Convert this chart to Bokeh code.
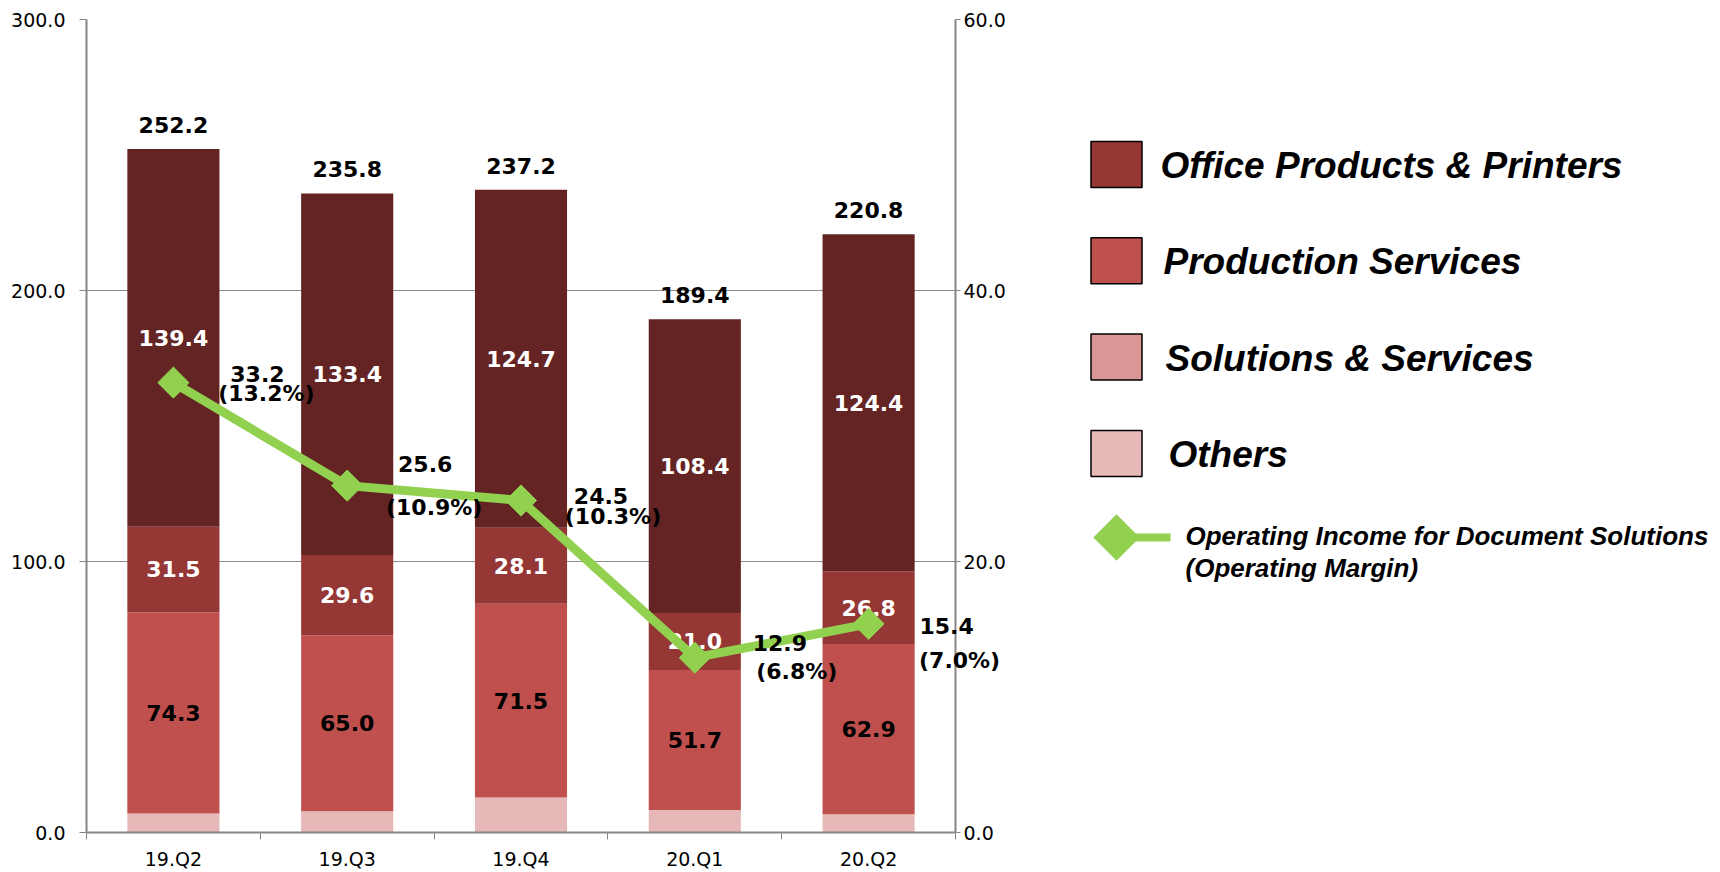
import math
from bokeh.plotting import figure
from bokeh.models import (Range1d, LinearAxis, FixedTicker, ColumnDataSource, Grid,
                          PrintfTickFormatter)
from bokeh.layouts import row
from bokeh.core.properties import value
from bokeh.embed import file_html
from bokeh.resources import INLINE

# ---------------- data ----------------
quarters = ["19.Q2", "19.Q3", "19.Q4", "20.Q1", "20.Q2"]
office = [139.4, 133.4, 124.7, 108.4, 124.4]
production = [31.5, 29.6, 28.1, 21.0, 26.8]
solutions = [74.3, 65.0, 71.5, 51.7, 62.9]
others = [7.0, 7.8, 12.9, 8.3, 6.7]
totals = [252.2, 235.8, 237.2, 189.4, 220.8]
op_income = [33.2, 25.6, 24.5, 12.9, 15.4]
op_margin = [13.2, 10.9, 10.3, 6.8, 7.0]

series_names = ["Office Products & Printers", "Production Services",
                "Solutions & Services", "Others"]
line_name = ["Operating Income for Document Solutions", "(Operating Margin)"]

left_ticks = [0, 100, 200, 300]
right_ticks = [0, 20, 40, 60]

# ---------------- styles ----------------
bar_colors = {"others": "#E6B9B8", "solutions": "#C0504D",
              "production": "#953735", "office": "#632423"}
legend_colors = ["#953735", "#C0504D", "#D99694", "#E6B9B8"]
green = "#92D050"
axis_gray = "#868686"
num_font = value("DejaVu Sans")

# label offsets for the operating income annotations (screen px, +dy = down)
l1_dx = [84, 78, 80, 85, 78]
l1_dy = [-9, -22, -5, -15, 2]
l2_dx = [93, 87, 92, 102, 91]
l2_dy = [11, 22, 16, 14, 37]

n = len(quarters)
xs = [i + 0.5 for i in range(n)]

src = ColumnDataSource(dict(
    x=xs, office=office, production=production, solutions=solutions, others=others,
    total=totals, oi=op_income,
    tot_txt=["%.1f" % v for v in totals],
    oi_txt=["%.1f" % v for v in op_income],
    om_txt=["(%.1f%%)" % v for v in op_margin],
    l1_dx=l1_dx, l1_dy=l1_dy, l2_dx=l2_dx, l2_dy=l2_dy,
))

FRAME_L, FRAME_R, FRAME_T, FRAME_B = 86, 955, 19, 832
MAIN_W = 1025
p = figure(width=MAIN_W, height=872, x_range=Range1d(0, n), y_range=Range1d(0, 300),
           x_axis_type=None, y_axis_type=None, output_backend="svg",
           toolbar_location=None, min_border_left=FRAME_L,
           min_border_right=MAIN_W - FRAME_R,
           min_border_top=FRAME_T, min_border_bottom=872 - FRAME_B)
p.outline_line_color = None
p.background_fill_color = "white"
p.extra_y_ranges = {"oi": Range1d(0, 60)}

grid = Grid(dimension=1, ticker=FixedTicker(ticks=left_ticks[1:]),
            grid_line_color="#8c8c8c", grid_line_width=1)
p.add_layout(grid)

# stacked bars
p.vbar_stack(["others", "solutions", "production", "office"], x="x", width=0.53,
             color=[bar_colors["others"], bar_colors["solutions"],
                    bar_colors["production"], bar_colors["office"]],
             line_color=None, source=src)

# segment labels
mid_sol = [o + s / 2 for o, s in zip(others, solutions)]
mid_prod = [o + s + pr / 2 for o, s, pr in zip(others, solutions, production)]
mid_off = [o + s + pr + of / 2 for o, s, pr, of in zip(others, solutions, production, office)]
seg_src = ColumnDataSource(dict(
    x=xs * 3,
    y=mid_sol + mid_prod + mid_off,
    t=["%.1f" % v for v in solutions + production + office],
    c=["black"] * n + ["white"] * n + ["white"] * n,
))
p.text(x="x", y="y", text="t", text_color="c", source=seg_src, text_font=num_font,
       text_font_style="bold", text_font_size="22px", text_align="center",
       text_baseline="middle")

# total labels
p.text(x="x", y="total", text="tot_txt", source=src, text_font=num_font,
       text_font_style="bold", text_font_size="22px", text_align="center",
       text_baseline="middle", y_offset=-24, text_color="black")

# operating income line
p.line(x="x", y="oi", source=src, y_range_name="oi", line_color=green, line_width=9)
p.scatter(x="x", y="oi", source=src, y_range_name="oi", marker="square",
          angle=math.pi / 4, size=22, fill_color=green, line_color=green)

# operating income / margin labels (overlay level so they are not clipped)
for txt, dx, dy in (("oi_txt", "l1_dx", "l1_dy"), ("om_txt", "l2_dx", "l2_dy")):
    p.text(x="x", y="oi", text=txt, source=src, y_range_name="oi", level="overlay",
           x_offset=dx, y_offset=dy, text_font=num_font, text_font_style="bold",
           text_font_size="22px", text_align="center", text_baseline="middle",
           text_color="black")

# axes
def style_axis(ax):
    ax.axis_line_color = axis_gray
    ax.axis_line_width = 2
    ax.major_tick_line_color = axis_gray
    ax.minor_tick_line_color = axis_gray
    ax.major_label_text_font = "DejaVu Sans"
    ax.major_label_text_font_size = "19px"
    ax.major_label_text_color = "black"

yl = LinearAxis(ticker=FixedTicker(ticks=left_ticks, minor_ticks=[]),
                formatter=PrintfTickFormatter(format="%.1f"))
style_axis(yl)
yl.major_tick_out = 7
yl.major_tick_in = 0
yl.minor_tick_out = 0
yl.minor_tick_in = 0
yl.major_label_standoff = 14
p.add_layout(yl, "left")

yr = LinearAxis(y_range_name="oi", ticker=FixedTicker(ticks=right_ticks, minor_ticks=[]),
                formatter=PrintfTickFormatter(format="%.1f"))
style_axis(yr)
yr.major_tick_out = 5
yr.major_tick_in = 0
yr.minor_tick_out = 0
yr.minor_tick_in = 0
yr.major_label_standoff = 3
p.add_layout(yr, "right")

xa = LinearAxis(ticker=FixedTicker(ticks=xs, minor_ticks=list(range(n + 1))))
style_axis(xa)
xa.major_label_overrides = {x: q for x, q in zip(xs, quarters)}
xa.major_tick_out = 0
xa.major_tick_in = 0
xa.minor_tick_out = 7
xa.minor_tick_in = 0
xa.major_label_standoff = 8
p.add_layout(xa, "below")

# ---------------- legend panel ----------------
# the row aligns this panel's frame with the chart frame (FRAME_T..FRAME_B)
lg = figure(width=1720 - MAIN_W, height=872, x_range=Range1d(MAIN_W, 1720),
            y_range=Range1d(FRAME_B, FRAME_T), x_axis_type=None, y_axis_type=None,
            output_backend="svg", toolbar_location=None, min_border=0)
lg.outline_line_color = None

box_cx = 1116
box_cy0 = 164
box_step = 96.3
box_cys = [box_cy0 + i * box_step for i in range(4)]
lg.rect(x=[box_cx] * 4, y=box_cys, width=51, height=46, fill_color=legend_colors,
        line_color="black", line_width=1.5)
lg.text(x=[1160, 1163, 1165, 1168], y=[c + 1 for c in box_cys], text=series_names,
        text_font=value("Liberation Sans"), text_font_style="bold italic",
        text_font_size="37px", text_baseline="alphabetic", text_align="left",
        text_color="black")

ly = 537
lg.line(x=[box_cx, 1170], y=[ly, ly], line_color=green, line_width=8)
lg.scatter(x=[box_cx], y=[ly], marker="square", angle=math.pi / 4, size=32,
           fill_color=green, line_color=green)
lg.text(x=[1185, 1185], y=[ly - 2, ly + 30], text=line_name,
        text_font=value("Liberation Sans"), text_font_style="bold italic",
        text_font_size="26px", text_baseline="alphabetic", text_align="left",
        text_color="black")

layout = row(p, lg)
open("out.html", "w").write(file_html(layout, INLINE))
